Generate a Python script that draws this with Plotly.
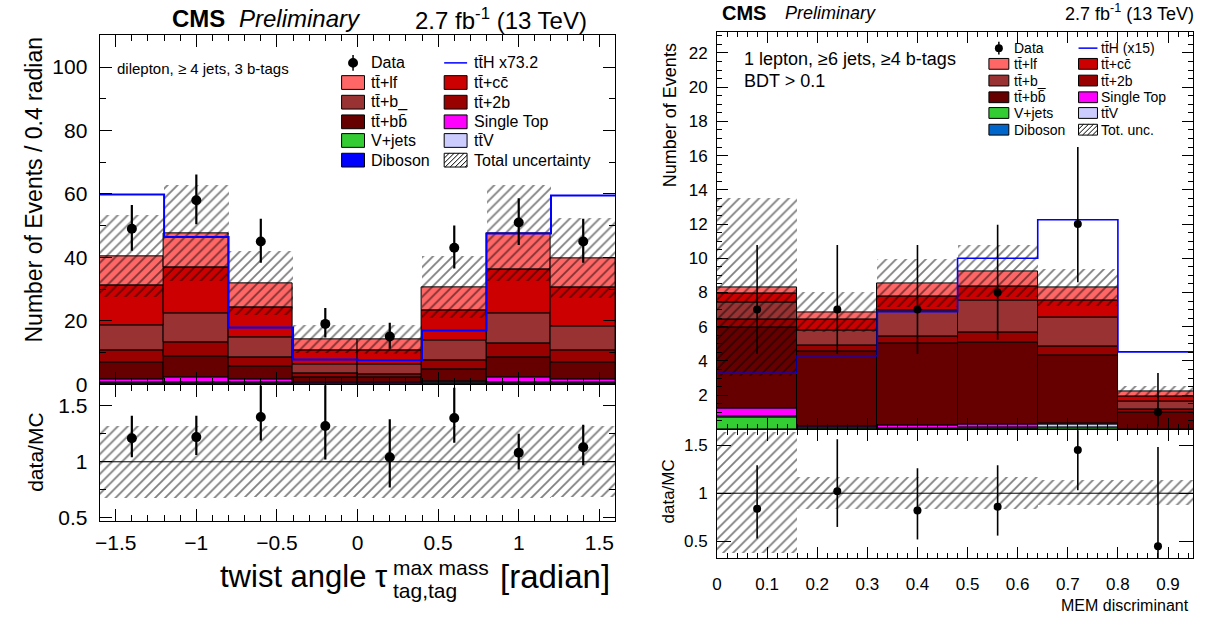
import plotly.graph_objects as go
import numpy as np

W, H = 1207, 628
def px(x): return x / W
def py(y): return 1 - y / H

FONT = "Liberation Sans"

# ---------------- Left panel data (twist angle) ----------------
L_edges = [-1.6, -1.2, -0.8, -0.4, 0.0, 0.4, 0.8, 1.2, 1.6]
L_centers = [-1.4, -1.0, -0.6, -0.2, 0.2, 0.6, 1.0, 1.4]
L_diboson = [0.05, 0.05, 0.05, 0.02, 0.02, 0.03, 0.05, 0.05]
L_vjets = [0.1, 0.1, 0.1, 0.05, 0.05, 0.1, 0.1, 0.1]
L_ttv = [0.4, 0.5, 0.35, 0.15, 0.15, 0.3, 0.5, 0.4]
L_singletop = [0.9, 1.6, 1.0, 0.3, 0.25, 0.4, 1.5, 1.0]
L_ttbb = [5.45, 6.45, 4.2, 1.58, 1.53, 3.97, 6.35, 5.35]
L_tt2b = [3.8, 4.4, 2.6, 1.3, 1.0, 2.7, 4.3, 3.8]
L_ttb = [7.8, 9.3, 6.6, 2.9, 3.2, 6.2, 9.4, 7.4]
L_ttcc = [12.8, 14.4, 9.4, 4.4, 4.3, 9.6, 14.1, 12.3]
L_ttlf = [9.0, 10.7, 7.4, 3.4, 3.5, 7.3, 11.2, 9.3]
L_tth = [59.8, 46.4, 17.9, 7.8, 7.5, 16.9, 47.5, 59.5]
L_data = [49, 58, 45, 19, 15, 43, 51, 45]
L_data_up = [7.5, 8.1, 7.2, 5.0, 4.4, 7.0, 7.6, 7.2]
L_data_dn = [6.9, 7.6, 6.7, 4.3, 3.8, 6.5, 7.1, 6.7]
L_unc = [12.9, 15.2, 10.1, 4.5, 4.5, 9.8, 15.2, 12.7]
L_ratio = [1.21, 1.22, 1.40, 1.32, 1.04, 1.39, 1.08, 1.13]
L_ratio_up = [0.20, 0.19, 0.28, 0.40, 0.34, 0.27, 0.17, 0.20]
L_ratio_dn = [0.17, 0.16, 0.21, 0.30, 0.27, 0.22, 0.15, 0.16]

# ---------------- Right panel data (MEM discriminant) ----------------
R_edges = [0.0, 0.16, 0.32, 0.48, 0.64, 0.80, 0.96]
R_centers = [0.08, 0.24, 0.40, 0.56, 0.72, 0.88]
R_diboson = [0.02, 0.0, 0.0, 0.0, 0.0, 0.0]
R_vjets = [0.65, 0.05, 0.03, 0.03, 0.12, 0.0]
R_ttv = [0.06, 0.05, 0.05, 0.08, 0.18, 0.02]
R_singletop = [0.48, 0.10, 0.15, 0.20, 0.05, 0.0]
R_ttbb = [4.75, 4.33, 4.82, 4.79, 3.99, 0.98]
R_tt2b = [0.46, 0.37, 0.38, 0.56, 0.48, 0.18]
R_ttb = [0.97, 0.87, 1.52, 1.90, 1.75, 0.44]
R_ttcc = [0.57, 0.65, 0.80, 0.82, 0.99, 0.29]
R_ttlf = [0.33, 0.40, 0.78, 0.86, 0.73, 0.32]
R_tth = [3.28, 4.3, 6.88, 10.0, 12.25, 4.53]
R_data = [7, 7, 7, 8, 12, 1]
R_data_up = [3.77, 3.77, 3.77, 3.96, 4.5, 2.3]
R_data_dn = [2.6, 2.6, 2.6, 2.76, 3.4, 0.83]
R_unc = [5.2, 1.16, 1.4, 1.5, 1.08, 0.29]
R_ratio = [0.84, 1.02, 0.82, 0.86, 1.45, 0.45]
R_ratio_up = [0.45, 0.54, 0.44, 0.43, 0.54, 1.03]
R_ratio_dn = [0.31, 0.37, 0.30, 0.30, 0.42, 0.37]

TB = "t" + "t\u0304"
C_LF, C_CC, C_B, C_2B, C_BB = "#ff6666", "#cc0000", "#993333", "#990000", "#660000"
C_ST, C_VJ, C_TTV = "#ff00ff", "#33cc33", "#ccccff"

fig = go.Figure()


def add_panel(edges, centers, comps, tth, data, dup, ddn, unc, ratio, rup, rdn,
              xa_main, ya_main, xa_rat, ya_rat, tth_width, msize, ethick):
    edges = np.array(edges)
    widths = np.diff(edges)
    base = np.zeros(len(centers))
    for vals, col in comps:
        v = np.array(vals, dtype=float)
        fig.add_trace(go.Bar(x=centers, y=v, base=base.copy(), width=widths,
                             marker=dict(color=col, line=dict(color="black", width=1)),
                             xaxis=xa_main, yaxis=ya_main, showlegend=False,
                             hoverinfo="skip"))
        base = base + v
    total = base
    u = np.array(unc)
    hatch = dict(shape="/", fgcolor="black", bgcolor="rgba(0,0,0,0)", size=7,
                 solidity=0.26, fillmode="overlay")
    fig.add_trace(go.Bar(x=centers, y=2 * u, base=total - u, width=widths,
                         marker=dict(color="rgba(0,0,0,0)", line=dict(width=0), pattern=hatch),
                         xaxis=xa_main, yaxis=ya_main, showlegend=False, hoverinfo="skip"))
    # ttH step line
    fig.add_trace(go.Scatter(x=list(edges), y=list(tth) + [tth[-1]], mode="lines",
                             line=dict(color="#0000ff", width=tth_width, shape="hv"),
                             xaxis=xa_main, yaxis=ya_main, showlegend=False, hoverinfo="skip"))
    fig.add_trace(go.Scatter(x=centers, y=data, mode="markers",
                             marker=dict(color="black", size=msize, symbol="circle"),
                             error_y=dict(type="data", symmetric=False, array=dup, arrayminus=ddn,
                                          thickness=ethick, width=0, color="black"),
                             xaxis=xa_main, yaxis=ya_main, showlegend=False, hoverinfo="skip"))
    # ratio band
    rel = u / total
    fig.add_trace(go.Bar(x=centers, y=2 * rel, base=1 - rel, width=widths,
                         marker=dict(color="rgba(0,0,0,0)", line=dict(width=0), pattern=hatch),
                         xaxis=xa_rat, yaxis=ya_rat, showlegend=False, hoverinfo="skip"))
    fig.add_trace(go.Scatter(x=[edges[0], edges[-1]], y=[1, 1], mode="lines",
                             line=dict(color="black", width=1),
                             xaxis=xa_rat, yaxis=ya_rat, showlegend=False, hoverinfo="skip"))
    fig.add_trace(go.Scatter(x=centers, y=ratio, mode="markers",
                             marker=dict(color="black", size=msize, symbol="circle"),
                             error_y=dict(type="data", symmetric=False, array=rup, arrayminus=rdn,
                                          thickness=ethick, width=0, color="black"),
                             xaxis=xa_rat, yaxis=ya_rat, showlegend=False, hoverinfo="skip"))


L_comps = [(L_diboson, "#0000ff"), (L_vjets, C_VJ), (L_ttv, C_TTV), (L_singletop, C_ST),
           (L_ttbb, C_BB), (L_tt2b, C_2B), (L_ttb, C_B), (L_ttcc, C_CC), (L_ttlf, C_LF)]
R_comps = [(R_diboson, "#0066cc"), (R_vjets, C_VJ), (R_ttv, C_TTV), (R_singletop, C_ST),
           (R_ttbb, C_BB), (R_tt2b, C_2B), (R_ttb, C_B), (R_ttcc, C_CC), (R_ttlf, C_LF)]

add_panel(L_edges, L_centers, L_comps, L_tth, L_data, L_data_up, L_data_dn, L_unc,
          L_ratio, L_ratio_up, L_ratio_dn, "x", "y", "x2", "y2", 2, 10, 2.2)
add_panel(R_edges, R_centers, R_comps, R_tth, R_data, R_data_up, R_data_dn, R_unc,
          R_ratio, R_ratio_up, R_ratio_dn, "x3", "y3", "x4", "y4", 1.6, 8, 1.6)


def axis(domain, rng, anchor, dtick=None, tickvals=None, showlabels=True, size=20,
         minor_dtick=None, ticklen=12, minorlen=6, standoff=4):
    d = dict(domain=domain, range=rng, anchor=anchor, showline=True, linecolor="black",
             linewidth=1, mirror="ticks", ticks="inside", ticklen=ticklen, tickcolor="black",
             tickwidth=1, showgrid=False, zeroline=False, showticklabels=showlabels,
             tickfont=dict(family=FONT, size=size, color="black"), ticklabelstandoff=standoff,
             fixedrange=True)
    if dtick is not None:
        d["dtick"] = dtick
        d["tick0"] = 0
    if tickvals is not None:
        d["tickvals"] = tickvals
        d["ticktext"] = [("%g" % t) for t in tickvals]
    if minor_dtick is not None:
        d["minor"] = dict(ticks="inside", ticklen=minorlen, dtick=minor_dtick, tick0=0,
                          tickcolor="black", showgrid=False)
    return d

LX = [px(95), px(613)]
RX = [px(715), px(1193)]

fig.update_layout(
    width=W, height=H, margin=dict(l=0, r=0, t=0, b=0),
    paper_bgcolor="white", plot_bgcolor="white", barmode="overlay", bargap=0,
    showlegend=False,
    xaxis=axis(LX, [-1.6, 1.6], "y", dtick=0.5, showlabels=False, minor_dtick=0.1),
    yaxis=axis([py(391), py(36)], [0, 110], "x", dtick=20, size=21, minor_dtick=10, standoff=7),
    xaxis2=axis(LX, [-1.6, 1.6], "y2", dtick=0.5, size=21, minor_dtick=0.1, standoff=3),
    yaxis2=axis([py(530), py(392)], [0.474, 1.684], "x2", tickvals=[0.5, 1, 1.5], size=21,
                minor_dtick=0.25, standoff=7),
    xaxis3=axis(RX, [0, 0.95], "y3", dtick=0.1, showlabels=False, minor_dtick=0.02,
                ticklen=11, minorlen=5),
    yaxis3=axis([py(437), py(33)], [0, 23.2], "x3", tickvals=list(range(2, 24, 2)), size=17,
                minor_dtick=0.5, ticklen=11, minorlen=5, standoff=5),
    xaxis4=axis(RX, [0, 0.95], "y4", dtick=0.1, size=17, minor_dtick=0.02, ticklen=11,
                minorlen=5, standoff=11),
    yaxis4=axis([py(568), py(438)], [0.327, 1.653], "x4", tickvals=[0.5, 1, 1.5], size=17,
                ticklen=14, standoff=5),
)

ann = []
shapes = []


def text(x, y, s, size, xanchor="left", yanchor="middle", angle=0, **kw):
    ann.append(dict(x=px(x), y=py(y), xref="paper", yref="paper", text=s, showarrow=False,
                    xanchor=xanchor, yanchor=yanchor, textangle=angle,
                    font=dict(family=FONT, size=size, color="black"), **kw))


# ---- Left titles
text(166, 19, "<b>CMS</b>", 24)
text(233, 19, "<i>Preliminary</i>", 24)
text(586, 19, "2.7 fb<sup>-1</sup> (13 TeV)", 24, xanchor="right")
text(110, 70, "dilepton, \u2265 4 jets, 3 b-tags", 15)
text(29, 193, "Number of Events / 0.4 radian", 23, xanchor="center", angle=-90)
text(31, 460, "data/MC", 21, xanchor="center", angle=-90)
text(386, 587, "twist angle \u03c4", 31, xanchor="right")
text(388, 578, "max mass", 21)
text(388, 601, "tag,tag", 21)
text(610, 587, "[radian]", 33, xanchor="right")

# ---- Right titles
text(718, 13, "<b>CMS</b>", 20)
text(781, 13, "<i>Preliminary</i>", 18)
text(1196, 13, "2.7 fb<sup>-1</sup> (13 TeV)", 18, xanchor="right")
text(740, 60, "1 lepton, \u22656 jets, \u22654 b-tags", 18)
text(740, 82, "BDT > 0.1", 18)
text(668, 117, "Number of Events", 18, xanchor="center", angle=-90)
text(666, 500, "data/MC", 17, xanchor="center", angle=-90)
text(1191, 616, "MEM discriminant", 16, xanchor="right")


def box(x0, x1, yc, h, color):
    shapes.append(dict(type="rect", xref="paper", yref="paper", x0=px(x0), x1=px(x1),
                       y0=py(yc + h / 2), y1=py(yc - h / 2), fillcolor=color,
                       line=dict(color="black", width=1)))


def hatch_box(x0, x1, yc, h):
    box(x0, x1, yc, h, "white")
    ybot, ytop = yc + h / 2, yc - h / 2
    c = x0 - h
    while c < x1:
        tlo, thi = max(0, x0 - c), min(h, x1 - c)
        if tlo < thi:
            shapes.append(dict(type="line", xref="paper", yref="paper",
                               x0=px(c + tlo), y0=py(ybot - tlo), x1=px(c + thi), y1=py(ybot - thi),
                               line=dict(color="black", width=1)))
        c += 5


def data_mark(xc, yc, r, h):
    shapes.append(dict(type="circle", xref="paper", yref="paper", x0=px(xc - r), x1=px(xc + r),
                       y0=py(yc + r), y1=py(yc - r), fillcolor="black", line=dict(width=0)))
    shapes.append(dict(type="line", xref="paper", yref="paper", x0=px(xc), x1=px(xc),
                       y0=py(yc + h / 2), y1=py(yc - h / 2), line=dict(color="black", width=1.5)))


def legend(c1x0, c1x1, c1t, c2x0, c2x1, c2t, rows, bh, size, entries1, entries2, r):
    for i, (lab, col) in enumerate(entries1):
        yc = rows[i]
        if col == "data":
            data_mark((c1x0 + c1x1) / 2, yc, r, bh + 2)
        else:
            box(c1x0, c1x1, yc, bh, col)
        text(c1t, yc, lab, size)
    for i, (lab, col) in enumerate(entries2):
        yc = rows[i]
        if col == "tth":
            shapes.append(dict(type="line", xref="paper", yref="paper", x0=px(c2x0), x1=px(c2x1),
                               y0=py(yc), y1=py(yc), line=dict(color="#0000ff", width=1.5)))
        elif col == "hatch":
            hatch_box(c2x0, c2x1, yc, bh)
        else:
            box(c2x0, c2x1, yc, bh, col)
        text(c2t, yc, lab, size)


col1 = [("Data", "data"), (TB + "+lf", C_LF), (TB + "+b_", C_B), (TB + "+bb\u0304", C_BB),
        ("V+jets", C_VJ), ("Diboson", "#0000ff")]
col2 = [(TB + "H x73.2", "tth"), (TB + "+cc\u0304", C_CC), (TB + "+2b", C_2B),
        ("Single Top", C_ST), (TB + "V", C_TTV), ("Total uncertainty", "hatch")]
legend(338, 361, 366, 441, 464, 469, [64, 84, 104, 124, 143, 163], 14, 16, col1, col2, 5)

col1r = [("Data", "data"), (TB + "+lf", C_LF), (TB + "+b_", C_B), (TB + "+bb\u0304", C_BB),
         ("V+jets", C_VJ), ("Diboson", "#0066cc")]
col2r = [(TB + "H (x15)", "tth"), (TB + "+cc\u0304", C_CC), (TB + "+2b", C_2B),
         ("Single Top", C_ST), (TB + "V", C_TTV), ("Tot. unc.", "hatch")]
legend(988, 1008, 1011, 1078, 1097, 1099, [49, 65, 82, 99, 115, 132], 11, 14, col1r, col2r, 4)

fig.update_layout(annotations=ann, shapes=shapes)
fig.write_html("out.html")
